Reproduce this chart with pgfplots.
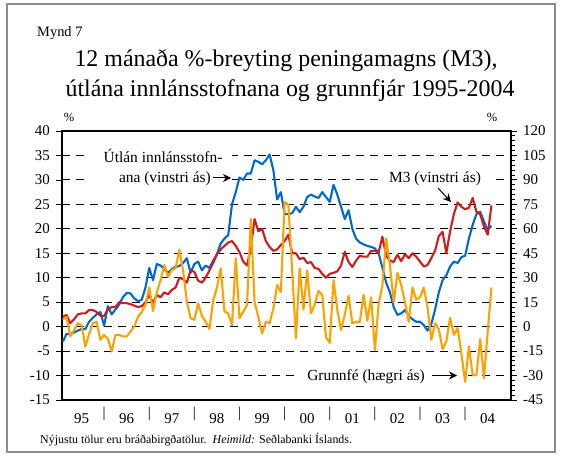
\documentclass[border=0pt]{standalone}
\usepackage{pgfplots}
\usepackage{pgfplotstable}
\pgfplotsset{compat=1.18}
\usepackage{fontspec}
\setmainfont{Liberation Serif}
\usetikzlibrary{arrows.meta}
\definecolor{cblue}{RGB}{0,104,210}
\definecolor{cred}{RGB}{208,28,28}
\definecolor{corange}{RGB}{255,162,0}
\pgfplotstableread{
m b r
1 -3.1 2.0
2 -1.5 2.4
3 -1.5 0.7
4 -1.2 1.5
5 -0.8 2.5
6 -0.5 2.7
7 -0.5 2.7
8 1.0 3.4
9 1.8 3.4
10 2.5 3.0
11 3.0 2.2
12 0.2 2.2
13 4.2 3.5
14 2.5 4.0
15 3.5 4.0
16 4.5 5.0
17 6.0 4.8
18 6.9 4.8
19 6.8 4.6
20 5.8 4.3
21 5.2 4.0
22 5.5 4.2
23 8.0 5.0
24 12.0 6.5
25 9.5 4.8
26 12.8 6.5
27 12.5 6.0
28 11.8 7.0
29 11.0 6.6
30 11.8 7.5
31 12.2 8.0
32 12.4 10.0
33 13.0 9.7
34 14.0 9.0
35 11.0 11.5
36 12.8 11.2
37 13.3 9.4
38 11.5 9.0
39 12.5 10.0
40 12.0 11.5
41 13.5 13.0
42 14.8 14.8
43 17.0 15.8
44 18.0 16.5
45 18.7 17.2
46 25.0 17.5
47 27.5 16.5
48 30.5 15.2
49 30.0 13.3
50 31.3 12.5
51 31.3 16.0
52 34.0 22.0
53 33.7 19.5
54 33.2 20.0
55 34.0 17.5
56 35.2 16.3
57 32.0 15.5
58 26.0 15.8
59 27.5 16.7
60 23.0 17.5
61 23.0 18.8
62 23.2 15.0
63 24.5 15.0
64 23.4 13.8
65 24.5 14.1
66 26.5 13.0
67 27.0 13.2
68 26.6 12.0
69 26.3 11.8
70 27.5 10.8
71 26.5 10.0
72 25.5 10.8
73 29.0 11.0
74 27.0 11.3
75 24.5 12.5
76 22.0 15.3
77 23.8 13.2
78 20.0 12.2
79 18.0 13.5
80 17.2 14.5
81 16.8 14.3
82 16.5 14.3
83 16.3 15.5
84 16.0 15.5
85 15.0 15.2
86 12.0 18.4
87 9.0 14.5
88 7.0 13.5
89 4.0 13.2
90 2.4 14.7
91 2.7 13.4
92 3.4 14.8
93 2.2 14.0
94 1.5 15.0
95 1.0 14.3
96 1.0 13.3
97 0.3 12.3
98 -0.8 12.6
99 0.5 14.0
100 3.5 15.5
101 7.0 18.5
102 9.5 19.4
103 10.5 15.0
104 12.3 19.5
105 13.3 23.0
106 13.0 25.4
107 14.2 24.5
108 14.5 24.0
109 18.0 24.3
110 20.8 26.3
111 23.0 23.5
112 23.5 23.0
113 21.5 20.5
114 19.8 18.8
115 20.6 24.8
}\lendata
\pgfplotstableread{
m o
1 4.2
2 6
3 -6
4 -2.1
5 2.1
6 0.9
7 -12.3
8 -4.5
9 2.1
10 3
11 -8.1
12 -5.1
13 -7.5
14 -15.3
15 -5.1
16 -5.1
17 -6
18 -6
19 -3
20 0
21 6
22 9
23 13.5
24 24
25 9.6
26 21
27 28.5
28 37.8
29 30.6
30 34.8
31 35.7
32 47.1
33 34.5
34 15.3
35 5.1
36 4.2
37 14.4
38 6.6
39 3
40 -1.5
41 16.2
42 24
43 35.7
44 9.3
45 8.1
46 0.9
47 42
48 5.1
49 9.3
50 13.2
51 66
52 15.3
53 6
54 -4.2
55 3
56 2.1
57 11.1
58 25.5
59 21.3
60 76.5
61 74.7
62 34.5
63 -7.2
64 35.7
65 10.5
66 34.5
67 8.1
68 13.5
69 21.9
70 19.5
71 -6.6
72 -9.9
73 28.5
74 10.5
75 -2.1
76 7.5
77 18.9
78 2.1
79 3
80 3
81 19.5
82 3.6
83 18
84 -14.4
85 13.8
86 25.5
87 54
88 37.5
89 15
90 33
91 25.5
92 15
93 3
94 24
95 16.5
96 18
97 24
98 12
99 -8.1
100 2.1
101 -1.5
102 -13.8
103 -9
104 5.4
105 -5.1
106 -0.9
107 -16.5
108 -33.9
109 -12
110 -29.7
111 -29.7
112 -7.5
113 -31.8
114 -3
115 24
}\gfdata
\pgfplotsset{
  every tick label/.append style={font=\fontsize{15}{18}\selectfont},
  /pgf/number format/assume math mode=true,
}
\begin{document}
\begin{tikzpicture}[x=1bp,y=1bp]
\path[use as bounding box] (0,0) rectangle (561,456);
\draw[black!45, line width=1.3bp] (7,4) rectangle (555,452);
\begin{axis}[
  at={(62bp,56bp)}, anchor=south west,
  width=449bp, height=269bp, scale only axis,
  xmin=0.8, xmax=120.2, ymin=-15, ymax=40,
  axis line style={black, line width=1.1bp},
  ytick={-15,-10,-5,5,10,15,20,25,30,35,40},
  extra y ticks={0},
  extra y tick style={grid style={solid, black, line width=1bp}},
  minor y tick num=4,
  ytick pos=left,
  tick align=outside,
  major tick length=6bp, minor tick length=3.5bp,
  tick style={black, line width=0.8bp},
  ymajorgrids,
  major grid style={black, line width=1.1bp, dash pattern=on 8bp off 6bp},
  yticklabel style={anchor=east, inner sep=0pt, xshift=-6bp},
  xtick={6,18,...,114},
  xticklabels={95,96,97,98,99,00,01,02,03,04},
  extra x ticks={12,24,...,108},
  extra x tick labels={|,|,|,|,|,|,|,|,|},
  extra x tick style={major tick length=0pt},
  xtick style={draw=none},
  xticklabel style={anchor=base, inner sep=0pt, yshift=-18bp},
]
\addplot[cblue, line width=2.1bp, line join=round] table[x=m,y=b]{\lendata};
\addplot[cred, line width=2.1bp, line join=round] table[x=m,y=r]{\lendata};
\end{axis}
\begin{axis}[
  at={(62bp,56bp)}, anchor=south west,
  width=449bp, height=269bp, scale only axis,
  xmin=0.8, xmax=120.2, ymin=-45, ymax=120,
  axis x line=none, axis y line*=right,
  axis line style={black, line width=1.1bp},
  ytick={-45,-30,...,120},
  minor y tick num=4,
  tick align=outside,
  major tick length=6bp, minor tick length=3.5bp,
  tick style={black, line width=0.8bp},
  yticklabel style={anchor=west, inner sep=0pt, xshift=6bp},
]
\addplot[corange, line width=2.1bp, line join=round] table[x=m,y=o]{\gfdata};
\end{axis}
% annotations
\fill[white] (90,268) rectangle (232,306);
\fill[white] (382,268) rectangle (490,288);
\fill[white] (295,70) rectangle (462,90);
\begin{scope}[font=\fontsize{15.5}{18}\selectfont]
\node[anchor=base] at (163,293) {Útlán innlánsstofn-};
\node[anchor=base east, inner sep=0pt] at (211,273) {ana (vinstri ás)};
\draw[line width=1bp, -{Stealth[length=8bp,width=8bp]}] (213,278) -- (231,278);
\node[anchor=base] at (435,273) {M3 (vinstri ás)};
\draw[line width=1bp, -{Stealth[length=8bp,width=8bp]}] (438,268) -- (451,254);
\node[anchor=base] at (366,75) {Grunnfé (hægri ás)};
\draw[line width=1bp, -{Stealth[length=8bp,width=8bp]}] (432,80.5) -- (457,80.5);
\end{scope}
\node[font=\fontsize{12.5}{14}\selectfont] at (69,339) {\%};
\node[font=\fontsize{12.5}{14}\selectfont] at (492,339) {\%};
\node[anchor=base west, inner sep=0pt, font=\fontsize{14.5}{17}\selectfont] at (37,419) {Mynd 7};
\node[anchor=base, inner sep=0pt, font=\fontsize{24}{29}\selectfont] at (286,389) {12 mánaða \%-breyting peningamagns (M3),};
\node[anchor=base, inner sep=0pt, font=\fontsize{24}{29}\selectfont] at (290,359) {útlána innlánsstofnana og grunnfjár 1995-2004};
\node[anchor=base west, inner sep=0pt, font=\fontsize{12}{15}\selectfont] at (40,12) {Nýjustu tölur eru bráðabirgðatölur.\ \ \textit{Heimild:} Seðlabanki Íslands.};
\end{tikzpicture}
\end{document}
